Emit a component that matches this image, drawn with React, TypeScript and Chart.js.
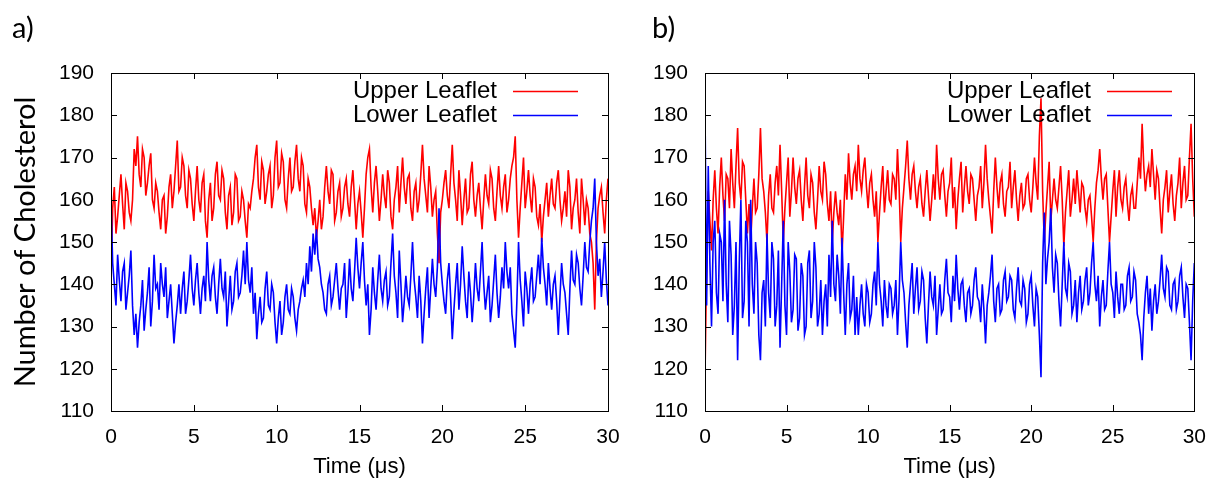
import React, { useEffect, useRef } from "react";
import { Chart, registerables } from "chart.js";

Chart.register(...registerables);

// Time axis (μs), sampled every 0.1 μs from 0 to 30
const TIME: number[] = Array.from({ length: 301 }, (_, i) => i / 10);

const X_TICKS = [0, 5, 10, 15, 20, 25, 30];
const Y_TICKS = [110, 120, 130, 140, 150, 160, 170, 180, 190];

// Panel a) values
const A_UPPER = [
  141, 158, 163, 152, 156, 161, 166, 159, 153, 164, 162, 157, 155, 160, 172, 168, 175, 166, 163, 172,
  170, 161, 164, 168, 171, 160, 158, 164, 162, 157, 153, 160, 161, 152, 156, 163, 166, 158, 162, 168,
  174, 162, 163, 170, 168, 161, 158, 167, 165, 159, 155, 162, 168, 160, 157, 164, 166, 155, 151, 160,
  164, 155, 158, 166, 169, 161, 160, 167, 165, 157, 153, 161, 163, 154, 157, 166, 165, 155, 156, 162,
  160, 155, 151, 159, 158, 162, 165, 170, 173, 163, 160, 169, 167, 159, 162, 166, 168, 158, 161, 170,
  174, 163, 164, 171, 169, 160, 158, 165, 170, 162, 163, 169, 173, 165, 162, 170, 168, 159, 157, 165,
  163, 158, 154, 158, 151, 155, 160, 153, 156, 163, 168, 162, 159, 167, 166, 155, 157, 162, 164, 156,
  158, 163, 165, 159, 156, 163, 167, 160, 153, 159, 162, 157, 151, 158, 166, 170, 172, 163, 157, 164,
  168, 162, 155, 160, 166, 161, 158, 167, 164, 156, 153, 160, 163, 168, 157, 164, 170, 163, 159, 165,
  166, 158, 155, 162, 164, 157, 160, 166, 173, 165, 161, 157, 168, 163, 156, 160, 162, 152, 145, 157,
  160, 164, 167, 161, 158, 166, 173, 164, 160, 155, 167, 161, 154, 160, 165, 157, 158, 166, 169, 160,
  156, 161, 164, 158, 153, 160, 166, 161, 159, 167, 165, 158, 155, 162, 168, 161, 158, 163, 166, 157,
  160, 165, 168, 170, 175, 160, 151, 158, 164, 170, 158, 162, 167, 161, 157, 165, 163, 156, 154, 159,
  150, 156, 160, 164, 156, 161, 165, 159, 158, 164, 167, 160, 155, 158, 162, 156, 167, 163, 153, 158,
  160, 165, 157, 152, 165, 160, 154, 160, 158, 152, 150, 145, 134, 150, 158, 161, 163, 157, 152, 160,
  165,
];
const A_LOWER = [
  160, 145, 140, 135, 147, 141, 136, 143, 145, 134, 138, 142, 148, 135, 128, 133, 125, 131, 135, 141,
  129, 134, 138, 144, 130, 136, 147, 139, 140, 134, 145, 140, 137, 144, 132, 136, 140, 133, 126, 131,
  135, 140, 133, 139, 143, 133, 136, 141, 147, 139, 135, 141, 145, 138, 133, 139, 142, 136, 150, 141,
  136, 142, 144, 137, 133, 140, 146, 139, 137, 143, 130, 136, 142, 134, 136, 143, 145, 137, 138, 142,
  148, 140, 150, 141, 138, 144, 133, 138, 127, 133, 137, 131, 132, 139, 143, 135, 134, 140, 138, 131,
  126, 132, 136, 128, 131, 137, 140, 134, 133, 139, 137, 132, 129, 134, 136, 139, 141, 137, 145, 140,
  149, 143, 152, 147, 153, 146, 144, 140, 138, 134, 133, 140, 142, 135, 137, 141, 145, 139, 134, 139,
  140, 145, 132, 138, 146, 139, 136, 143, 151, 144, 139, 145, 150, 141, 135, 140, 128, 134, 144, 138,
  134, 141, 147, 139, 136, 141, 143, 135, 137, 145, 152, 142, 138, 132, 148, 140, 131, 136, 142, 137,
  135, 142, 150, 141, 137, 132, 142, 136, 126, 133, 139, 144, 132, 139, 146, 140, 137, 144, 158, 145,
  140, 136, 133, 141, 145, 137, 127, 134, 140, 145, 134, 140, 149, 142, 136, 132, 143, 138, 131, 137,
  145, 139, 136, 143, 150, 140, 134, 138, 142, 131, 135, 141, 147, 138, 132, 137, 144, 139, 150, 143,
  139, 144, 133, 129, 125, 136, 150, 141, 136, 130, 143, 139, 133, 140, 144, 136, 137, 142, 147, 140,
  151, 144, 140, 135, 145, 139, 134, 140, 142, 136, 128, 137, 145, 140, 138, 133, 128, 139, 148, 141,
  140, 147, 145, 139, 135, 142, 150, 144, 143, 150, 155, 158, 165, 150, 142, 146, 137, 143, 150, 141,
  135,
];

// Panel b) values
const B_UPPER = [
  118, 145, 162, 155, 148, 160, 167, 158, 152, 163, 170, 161, 155, 166, 165, 158, 172, 164, 158, 168,
  177, 164, 160, 169, 168, 160, 152, 159, 150, 158, 165, 157, 158, 166, 177, 165, 162, 157, 150, 161,
  166, 158, 157, 164, 168, 161, 173, 162, 150, 158, 164, 170, 156, 162, 170, 163, 159, 165, 167, 160,
  155, 163, 170, 161, 158, 166, 164, 157, 153, 160, 168, 162, 160, 169, 166, 159, 155, 162, 150, 157,
  162, 157, 154, 160, 147, 156, 166, 160, 171, 164, 160, 166, 168, 162, 173, 165, 162, 167, 170, 163,
  158, 164, 166, 160, 156, 162, 150, 157, 163, 168, 157, 162, 167, 160, 159, 166, 165, 160, 172, 163,
  150, 158, 163, 168, 174, 165, 160, 166, 168, 162, 158, 163, 165, 159, 156, 162, 167, 161, 155, 160,
  166, 160, 173, 165, 160, 166, 167, 161, 156, 162, 164, 170, 158, 163, 153, 160, 165, 169, 157, 163,
  168, 162, 159, 166, 165, 160, 155, 161, 163, 168, 158, 164, 173, 165, 160, 156, 152, 162, 170, 163,
  158, 164, 166, 159, 156, 162, 163, 169, 158, 163, 167, 160, 155, 161, 164, 158, 159, 165, 166, 160,
  157, 163, 170, 164, 160, 175, 184, 162, 150, 157, 163, 169, 155, 160, 165, 160, 158, 163, 168, 160,
  149, 157, 162, 167, 156, 160, 165, 159, 167, 162, 157, 164, 163, 158, 155, 160, 161, 156, 150, 158,
  164, 167, 172, 165, 160, 165, 166, 158, 150, 156, 162, 167, 156, 163, 167, 160, 158, 163, 165, 159,
  155, 161, 163, 158, 158, 164, 170, 165, 178, 168, 162, 166, 168, 163, 172, 166, 160, 167, 165, 158,
  152, 160, 163, 167, 157, 162, 166, 159, 155, 161, 164, 170, 158, 164, 168, 160, 161, 170, 178, 165,
  156,
];
const B_LOWER = [
  182, 135, 168, 145, 130, 150, 155, 138, 133, 152, 150, 136, 160, 140, 131, 155, 147, 128, 135, 150,
  122, 145, 160, 132, 136, 155, 150, 130, 160, 140, 133, 150, 145, 128, 122, 138, 141, 130, 152, 138,
  132, 150, 146, 130, 135, 148, 125, 140, 155, 135, 128, 150, 143, 131, 134, 147, 146, 129, 132, 145,
  142, 128, 130, 145, 148, 132, 136, 150, 144, 130, 133, 141, 128, 136, 140, 130, 147, 137, 155, 140,
  136, 147, 142, 133, 151, 138, 128, 140, 145, 132, 134, 142, 128, 137, 128, 135, 140, 133, 130, 140,
  138, 131, 133, 140, 143, 135, 150, 140, 136, 130, 141, 135, 132, 140, 139, 133, 135, 141, 128, 137,
  150, 141, 138, 131, 125, 135, 140, 145, 133, 139, 144, 134, 136, 143, 141, 132, 126, 135, 143, 137,
  135, 142, 128, 134, 140, 133, 134, 141, 146, 138, 137, 131, 142, 136, 147, 139, 134, 140, 141, 135,
  131, 138, 139, 133, 135, 141, 144, 137, 136, 131, 140, 134, 126, 135, 138, 142, 147, 136, 131, 139,
  140, 133, 134, 141, 143, 136, 137, 142, 141, 134, 132, 139, 144, 136, 135, 141, 139, 131, 133, 140,
  142, 135, 130, 139, 137, 128, 118, 145, 157, 140, 146, 150, 158, 144, 138, 147, 145, 136, 130, 140,
  150, 139, 137, 145, 143, 133, 135, 141, 131, 138, 142, 134, 136, 141, 144, 135, 138, 145, 150, 140,
  136, 142, 130, 137, 141, 134, 135, 143, 150, 140, 138, 132, 143, 137, 133, 140, 140, 134, 135, 142,
  144, 136, 137, 143, 141, 133, 131, 128, 122, 132, 138, 142, 133, 139, 129, 136, 140, 133, 136, 141,
  147, 139, 137, 144, 143, 135, 134, 140, 141, 134, 136, 142, 144, 137, 132, 140, 139, 131, 122, 136,
  145,
];

const SERIES_NAMES = ["Upper Leaflet", "Lower Leaflet"];
const SERIES_COLORS = ["#ff0000", "#0000ff"];

const TICK_FONT = "'Liberation Sans', Arial, sans-serif";
const TITLE_FONT = "Lato, 'Open Sans', sans-serif";

const framePlugin = {
  id: "gnuFrame",
  afterDraw(chart: any, _args: any, opts: any) {
    const { ctx, chartArea } = chart;
    const { left, right, top, bottom } = chartArea;
    const xs = chart.scales.x;
    const ys = chart.scales.y;
    ctx.save();
    ctx.strokeStyle = "#000000";
    ctx.lineWidth = 1;
    ctx.strokeRect(Math.round(left) + 0.5, Math.round(top) + 0.5, Math.round(right - left), Math.round(bottom - top));
    const tl = 6;
    ctx.beginPath();
    X_TICKS.forEach((v) => {
      const px = Math.round(xs.getPixelForValue(v)) + 0.5;
      ctx.moveTo(px, bottom);
      ctx.lineTo(px, bottom - tl);
      ctx.moveTo(px, top);
      ctx.lineTo(px, top + tl);
    });
    Y_TICKS.forEach((v) => {
      const py = Math.round(ys.getPixelForValue(v)) + 0.5;
      ctx.moveTo(left, py);
      ctx.lineTo(left + tl, py);
      ctx.moveTo(right, py);
      ctx.lineTo(right - tl, py);
    });
    ctx.stroke();

    // key
    ctx.font = `24px ${TICK_FONT}`;
    ctx.textAlign = "right";
    ctx.textBaseline = "middle";
    SERIES_NAMES.forEach((name, i) => {
      const yy = Math.round(top + 18 + i * 24);
      ctx.fillStyle = "#000000";
      ctx.fillText(name, left + 386, yy);
      ctx.strokeStyle = SERIES_COLORS[i];
      ctx.lineWidth = 1.3;
      ctx.beginPath();
      ctx.moveTo(left + 402, yy + 0.5);
      ctx.lineTo(left + 467, yy + 0.5);
      ctx.stroke();
    });

    // panel label
    ctx.fillStyle = "#000000";
    ctx.textAlign = "left";
    ctx.textBaseline = "middle";
    ctx.font = `29px ${TITLE_FONT}`;
    ctx.fillText(opts.label, opts.labelX, opts.labelY);
    ctx.restore();
  },
};

type PanelProps = {
  upper: number[];
  lower: number[];
  width: number;
  left: number;
  yAxisWidth: number;
  padRight: number;
  showYTitle: boolean;
  label: string;
  labelX: number;
};

function Panel(p: PanelProps) {
  const ref = useRef<HTMLCanvasElement | null>(null);
  useEffect(() => {
    if (!ref.current) return;
    const mk = (vals: number[]) => vals.map((v, i) => ({ x: TIME[i], y: v }));
    const chart = new Chart(ref.current, {
      type: "line",
      data: {
        datasets: [
          {
            label: SERIES_NAMES[0],
            data: mk(p.upper),
            borderColor: SERIES_COLORS[0],
            backgroundColor: SERIES_COLORS[0],
            borderWidth: 1.6,
            pointRadius: 0,
            tension: 0,
            order: 2,
          },
          {
            label: SERIES_NAMES[1],
            data: mk(p.lower),
            borderColor: SERIES_COLORS[1],
            backgroundColor: SERIES_COLORS[1],
            borderWidth: 1.6,
            pointRadius: 0,
            tension: 0,
            order: 1,
          },
        ],
      },
      options: {
        animation: false,
        responsive: false,
        devicePixelRatio: 1,
        layout: { padding: { top: 73, right: p.padRight, left: 0, bottom: 0 } },
        plugins: {
          legend: { display: false },
          tooltip: { enabled: false },
          gnuFrame: { label: p.label, labelX: p.labelX, labelY: 29 },
        } as any,
        scales: {
          x: {
            type: "linear",
            min: 0,
            max: 30,
            afterBuildTicks: (s: any) => {
              s.ticks = X_TICKS.map((v) => ({ value: v }));
            },
            afterFit: (s: any) => {
              s.height = 76;
            },
            grid: { display: false, drawTicks: false },
            border: { display: false },
            ticks: {
              color: "#000",
              padding: 14,
              maxRotation: 0,
              font: { family: TICK_FONT, size: 21 },
            },
            title: {
              display: true,
              text: "Time (μs)",
              color: "#000",
              padding: { top: 9, bottom: 7 },
              font: { family: TICK_FONT, size: 22 },
            },
          },
          y: {
            type: "linear",
            min: 110,
            max: 190,
            afterBuildTicks: (s: any) => {
              s.ticks = Y_TICKS.map((v) => ({ value: v }));
            },
            afterFit: (s: any) => {
              s.width = p.yAxisWidth;
            },
            grid: { display: false, drawTicks: false },
            border: { display: false },
            ticks: {
              color: "#000",
              padding: 17,
              font: { family: TICK_FONT, size: 21 },
            },
            title: {
              display: p.showYTitle,
              text: "Number of Cholesterol",
              color: "#000",
              padding: 8,
              font: { family: TITLE_FONT, size: 29 },
            },
          },
        },
      },
      plugins: [framePlugin],
    } as any);
    return () => chart.destroy();
  }, []);
  return (
    <canvas
      ref={ref}
      width={p.width}
      height={487}
      style={{ position: "absolute", left: p.left, top: 0, width: p.width, height: 487 }}
    />
  );
}

export default function App() {
  return (
    <div style={{ position: "fixed", left: 0, top: 0, width: 1220, height: 487, background: "#fff" }}>
      <Panel upper={A_UPPER} lower={A_LOWER} width={635} left={0} yAxisWidth={111} padRight={27} showYTitle={true} label="a)" labelX={12} />
      <Panel upper={B_UPPER} lower={B_LOWER} width={585} left={635} yAxisWidth={70} padRight={18} showYTitle={false} label="b)" labelX={17} />
    </div>
  );
}
